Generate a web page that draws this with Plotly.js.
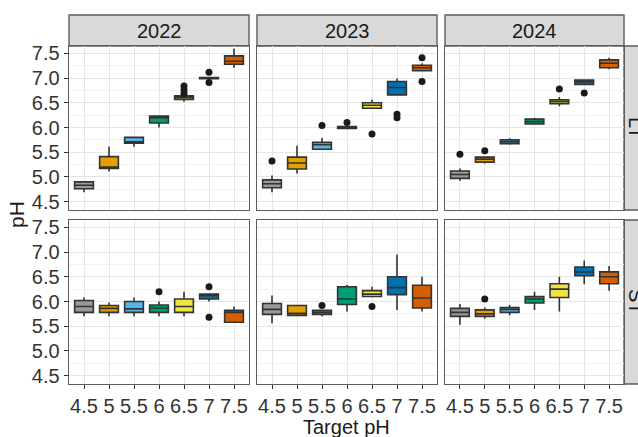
<!DOCTYPE html>
<html>
<head>
<meta charset="utf-8">
<script src="https://cdn.plot.ly/plotly-3.0.1.min.js"></script>
<style>
  html, body { margin: 0; padding: 0; background: #ffffff; }
  #chart { width: 638px; height: 437px; }
</style>
</head>
<body>
<div id="chart"></div>
<script>
// Target pH categories and fill colours (one per target)
const targets = ['4.5', '5', '5.5', '6', '6.5', '7', '7.5'];
const fills = ['#999999', '#E69F00', '#56B4E9', '#009E73', '#F0E442', '#0072B2', '#D55E00'];
const years = ['2022', '2023', '2024'];
const depths = ['LT', 'ST'];

// Box statistics, LT
const lo_LT_2022  = [4.69, 5.11, 5.61, 6.00, 6.52, 6.98, 7.21];
const q1_LT_2022  = [4.76, 5.17, 5.68, 6.09, 6.57, 6.99, 7.28];
const med_LT_2022 = [4.83, 5.20, 5.71, 6.20, 6.61, 7.00, 7.34];
const q3_LT_2022  = [4.90, 5.41, 5.80, 6.23, 6.64, 7.01, 7.45];
const hi_LT_2022  = [4.90, 5.61, 5.80, 6.23, 6.64, 7.02, 7.60];
const outX_LT_2022 = ['6.5', '6.5', '6.5', '7', '7'];
const outY_LT_2022 = [6.84, 6.76, 6.69, 7.12, 6.91];

const lo_LT_2023  = [4.69, 5.07, 5.56, 5.98, 6.39, 6.66, 7.15];
const q1_LT_2023  = [4.78, 5.16, 5.56, 5.98, 6.39, 6.66, 7.15];
const med_LT_2023 = [4.86, 5.28, 5.65, 6.00, 6.45, 6.81, 7.21];
const q3_LT_2023  = [4.94, 5.40, 5.70, 6.02, 6.50, 6.93, 7.26];
const hi_LT_2023  = [5.03, 5.63, 5.79, 6.06, 6.56, 6.99, 7.30];
const outX_LT_2023 = ['4.5', '5.5', '6', '6.5', '7', '7', '7.5', '7.5'];
const outY_LT_2023 = [5.32, 6.04, 6.10, 5.87, 6.27, 6.20, 7.41, 6.93];

const lo_LT_2024  = [4.92, 5.27, 5.65, 6.07, 6.43, 6.87, 7.18];
const q1_LT_2024  = [4.97, 5.30, 5.67, 6.07, 6.48, 6.87, 7.21];
const med_LT_2024 = [5.05, 5.36, 5.71, 6.12, 6.52, 6.92, 7.30];
const q3_LT_2024  = [5.12, 5.40, 5.75, 6.17, 6.56, 6.96, 7.37];
const hi_LT_2024  = [5.17, 5.40, 5.78, 6.20, 6.62, 6.96, 7.41];
const outX_LT_2024 = ['4.5', '5', '6.5', '7'];
const outY_LT_2024 = [5.46, 5.53, 6.78, 6.70];

// Box statistics, ST
const lo_ST_2022  = [5.70, 5.70, 5.70, 5.70, 5.70, 6.00, 5.58];
const q1_ST_2022  = [5.78, 5.78, 5.78, 5.78, 5.78, 6.05, 5.58];
const med_ST_2022 = [5.90, 5.86, 5.85, 5.87, 5.90, 6.12, 5.78];
const q3_ST_2022  = [6.02, 5.92, 6.00, 5.93, 6.05, 6.15, 5.82];
const hi_ST_2022  = [6.08, 5.98, 6.08, 6.00, 6.20, 6.15, 5.90];
const outX_ST_2022 = ['6', '7', '7'];
const outY_ST_2022 = [6.20, 6.30, 5.68];

const lo_ST_2023  = [5.56, 5.72, 5.70, 5.80, 6.10, 5.83, 5.80];
const q1_ST_2023  = [5.74, 5.72, 5.74, 5.94, 6.10, 6.14, 5.87];
const med_ST_2023 = [5.84, 5.76, 5.78, 6.05, 6.15, 6.28, 6.07];
const q3_ST_2023  = [5.96, 5.92, 5.82, 6.30, 6.22, 6.50, 6.33];
const hi_ST_2023  = [6.12, 5.92, 5.82, 6.34, 6.30, 6.95, 6.50];
const outX_ST_2023 = ['5.5', '6.5'];
const outY_ST_2023 = [5.92, 5.90];

const lo_ST_2024  = [5.53, 5.65, 5.72, 5.83, 5.80, 6.35, 6.22];
const q1_ST_2024  = [5.70, 5.70, 5.78, 5.97, 6.08, 6.52, 6.36];
const med_ST_2024 = [5.78, 5.75, 5.84, 6.05, 6.25, 6.60, 6.50];
const q3_ST_2024  = [5.86, 5.83, 5.88, 6.10, 6.36, 6.70, 6.60];
const hi_ST_2024  = [5.95, 5.88, 5.93, 6.20, 6.50, 6.83, 6.72];
const outX_ST_2024 = ['5'];
const outY_ST_2024 = [6.05];

const yTicks = [4.5, 5.0, 5.5, 6.0, 6.5, 7.0, 7.5];

const panels = {
  LT_2022: [lo_LT_2022, q1_LT_2022, med_LT_2022, q3_LT_2022, hi_LT_2022, outX_LT_2022, outY_LT_2022],
  LT_2023: [lo_LT_2023, q1_LT_2023, med_LT_2023, q3_LT_2023, hi_LT_2023, outX_LT_2023, outY_LT_2023],
  LT_2024: [lo_LT_2024, q1_LT_2024, med_LT_2024, q3_LT_2024, hi_LT_2024, outX_LT_2024, outY_LT_2024],
  ST_2022: [lo_ST_2022, q1_ST_2022, med_ST_2022, q3_ST_2022, hi_ST_2022, outX_ST_2022, outY_ST_2022],
  ST_2023: [lo_ST_2023, q1_ST_2023, med_ST_2023, q3_ST_2023, hi_ST_2023, outX_ST_2023, outY_ST_2023],
  ST_2024: [lo_ST_2024, q1_ST_2024, med_ST_2024, q3_ST_2024, hi_ST_2024, outX_ST_2024, outY_ST_2024]
};

// Page geometry in pixels
const W = 638, H = 437;
const colPx = [[69, 249], [257, 437], [445, 624]];
const rowPx = [[46, 210], [220, 384]];
const FONT = 'Liberation Sans, Arial, sans-serif';
const INK = '#333333';
const BORDER = '#5c5c5c';

const traces = [];
const layout = {
  width: W, height: H,
  margin: {l: 0, r: 0, t: 0, b: 0},
  paper_bgcolor: '#ffffff',
  plot_bgcolor: '#ffffff',
  showlegend: false,
  boxmode: 'overlay',
  font: {family: FONT, size: 20, color: INK},
  shapes: [],
  annotations: []
};

depths.forEach((d, r) => {
  years.forEach((yr, c) => {
    const idx = r * 3 + c + 1;
    const xa = idx === 1 ? 'x' : 'x' + idx;
    const ya = idx === 1 ? 'y' : 'y' + idx;
    const [lo, q1, med, q3, hi, ox, oy] = panels[d + '_' + yr];

    targets.forEach((t, i) => {
      traces.push({
        type: 'box', xaxis: xa, yaxis: ya, orientation: 'v',
        x: [t], q1: [q1[i]], median: [med[i]], q3: [q3[i]],
        lowerfence: [lo[i]], upperfence: [hi[i]],
        boxpoints: false, width: 0.75, whiskerwidth: 0,
        fillcolor: fills[i],
        line: {color: INK, width: 1.6},
        hoverinfo: 'skip'
      });
    });
    traces.push({
      type: 'scatter', mode: 'markers', xaxis: xa, yaxis: ya,
      x: ox, y: oy,
      marker: {color: '#1a1a1a', size: 7},
      hoverinfo: 'skip', cliponaxis: false
    });

    const xKey = idx === 1 ? 'xaxis' : 'xaxis' + idx;
    const yKey = idx === 1 ? 'yaxis' : 'yaxis' + idx;
    layout[xKey] = {
      domain: [colPx[c][0] / W, colPx[c][1] / W],
      anchor: ya,
      type: 'category',
      categoryorder: 'array', categoryarray: targets,
      range: [-0.6, 6.6],
      tickmode: 'array', tickvals: targets, ticktext: targets,
      tickangle: 0,
      showticklabels: r === 1,
      ticks: r === 1 ? 'outside' : '',
      ticklen: 4, tickwidth: 1, tickcolor: INK,
      tickfont: {family: FONT, size: 20, color: INK},
      showgrid: true, gridcolor: '#E6E6E6', gridwidth: 1,
      showline: true, mirror: true, linecolor: BORDER, linewidth: 1.4,
      zeroline: false, fixedrange: true
    };
    layout[yKey] = {
      domain: [1 - rowPx[r][1] / H, 1 - rowPx[r][0] / H],
      anchor: xa,
      range: [4.33, 7.65],
      tickmode: 'array', tickvals: yTicks,
      ticktext: yTicks.map(v => v.toFixed(1)),
      showticklabels: c === 0,
      ticks: c === 0 ? 'outside' : '',
      ticklen: 4, tickwidth: 1, tickcolor: INK,
      tickfont: {family: FONT, size: 20, color: INK},
      showgrid: true, gridcolor: '#E6E6E6', gridwidth: 1,
      minor: {dtick: 0.25, tick0: 4.25, showgrid: true, gridcolor: '#F2F2F2', gridwidth: 1, ticks: ''},
      showline: true, mirror: true, linecolor: BORDER, linewidth: 1.4,
      zeroline: false, fixedrange: true
    };
  });
});

// Facet strips: years along the top
years.forEach((yr, c) => {
  layout.shapes.push({
    type: 'rect', xref: 'paper', yref: 'paper', layer: 'below',
    x0: colPx[c][0] / W, x1: colPx[c][1] / W,
    y0: 1 - 46 / H, y1: 1 - 15 / H,
    fillcolor: '#D9D9D9', line: {color: BORDER, width: 1.4}
  });
  layout.annotations.push({
    xref: 'paper', yref: 'paper', showarrow: false,
    x: (colPx[c][0] + colPx[c][1]) / 2 / W, y: 1 - 31 / H,
    xanchor: 'center', yanchor: 'middle',
    text: yr, font: {family: FONT, size: 20, color: '#1a1a1a'}
  });
});

// Facet strips: depth classes on the right
depths.forEach((d, r) => {
  layout.shapes.push({
    type: 'rect', xref: 'paper', yref: 'paper', layer: 'below',
    x0: 624 / W, x1: 660 / W,
    y0: 1 - rowPx[r][1] / H, y1: 1 - rowPx[r][0] / H,
    fillcolor: '#D9D9D9', line: {color: BORDER, width: 1.4}
  });
  layout.annotations.push({
    xref: 'paper', yref: 'paper', showarrow: false,
    x: 636 / W, y: 1 - (rowPx[r][0] + rowPx[r][1]) / 2 / H,
    xanchor: 'center', yanchor: 'middle', textangle: 90,
    text: d, font: {family: FONT, size: 20, color: '#1a1a1a'}
  });
});

// Axis titles
layout.annotations.push({
  xref: 'paper', yref: 'paper', showarrow: false,
  x: 346 / W, y: 1 - 427 / H, xanchor: 'center', yanchor: 'middle',
  text: 'Target pH', font: {family: FONT, size: 20, color: '#1a1a1a'}
});
layout.annotations.push({
  xref: 'paper', yref: 'paper', showarrow: false,
  x: 16 / W, y: 1 - 215 / H, xanchor: 'center', yanchor: 'middle',
  textangle: -90,
  text: 'pH', font: {family: FONT, size: 21, color: '#1a1a1a'}
});

Plotly.newPlot('chart', traces, layout, {staticPlot: true, displayModeBar: false});
</script>
</body>
</html>
